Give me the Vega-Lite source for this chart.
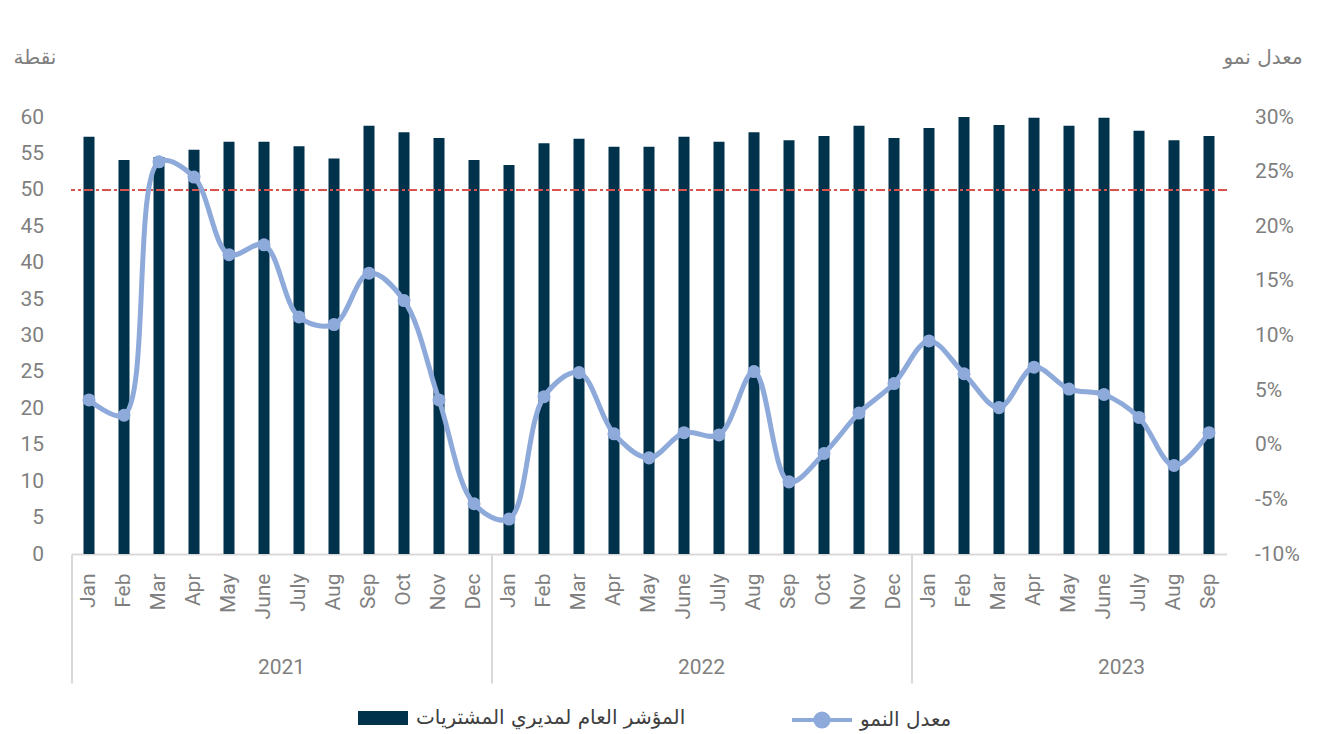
{
  "$schema": "https://vega.github.io/schema/vega-lite/v6.json",
  "autosize": {"type": "none"},
  "padding": {"left": 71.5, "top": 117, "right": 91.5, "bottom": 180},
  "width": 1155,
  "height": 437,
  "background": "white",
  "config": {
    "view": {"stroke": null},
    "font": "Roboto",
    "axis": {"labelColor": "#7f7f7f", "labelFont": "Roboto", "grid": false, "titleColor": "#7f7f7f", "titleFontWeight": "normal"},
    "legend": {"labelColor": "#404040", "labelFont": "DejaVu Sans", "labelFontSize": 20, "labelLimit": 500}
  },
  "data": {"values": [
    {"key": "2021 Jan", "pmi": 57.3, "growth": 0.041},
    {"key": "2021 Feb", "pmi": 54.1, "growth": 0.027},
    {"key": "2021 Mar", "pmi": 54.5, "growth": 0.259},
    {"key": "2021 Apr", "pmi": 55.5, "growth": 0.245},
    {"key": "2021 May", "pmi": 56.6, "growth": 0.174},
    {"key": "2021 June", "pmi": 56.6, "growth": 0.183},
    {"key": "2021 July", "pmi": 56.0, "growth": 0.117},
    {"key": "2021 Aug", "pmi": 54.3, "growth": 0.110},
    {"key": "2021 Sep", "pmi": 58.8, "growth": 0.157},
    {"key": "2021 Oct", "pmi": 57.9, "growth": 0.132},
    {"key": "2021 Nov", "pmi": 57.1, "growth": 0.041},
    {"key": "2021 Dec", "pmi": 54.1, "growth": -0.054},
    {"key": "2022 Jan", "pmi": 53.4, "growth": -0.068},
    {"key": "2022 Feb", "pmi": 56.4, "growth": 0.044},
    {"key": "2022 Mar", "pmi": 57.0, "growth": 0.066},
    {"key": "2022 Apr", "pmi": 55.9, "growth": 0.010},
    {"key": "2022 May", "pmi": 55.9, "growth": -0.012},
    {"key": "2022 June", "pmi": 57.3, "growth": 0.011},
    {"key": "2022 July", "pmi": 56.6, "growth": 0.009},
    {"key": "2022 Aug", "pmi": 57.9, "growth": 0.067},
    {"key": "2022 Sep", "pmi": 56.8, "growth": -0.034},
    {"key": "2022 Oct", "pmi": 57.4, "growth": -0.008},
    {"key": "2022 Nov", "pmi": 58.8, "growth": 0.029},
    {"key": "2022 Dec", "pmi": 57.1, "growth": 0.056},
    {"key": "2023 Jan", "pmi": 58.5, "growth": 0.095},
    {"key": "2023 Feb", "pmi": 60.0, "growth": 0.065},
    {"key": "2023 Mar", "pmi": 58.9, "growth": 0.034},
    {"key": "2023 Apr", "pmi": 59.9, "growth": 0.071},
    {"key": "2023 May", "pmi": 58.8, "growth": 0.051},
    {"key": "2023 June", "pmi": 59.9, "growth": 0.046},
    {"key": "2023 July", "pmi": 58.1, "growth": 0.025},
    {"key": "2023 Aug", "pmi": 56.8, "growth": -0.019},
    {"key": "2023 Sep", "pmi": 57.4, "growth": 0.011}
  ]},
  "layer": [
    {
      "layer": [
        {
          "mark": {"type": "bar", "size": 11},
          "encoding": {
            "x": {"field": "key", "type": "ordinal", "sort": null,
              "scale": {"paddingInner": 0, "paddingOuter": 0},
              "axis": {"orient": "bottom", "title": null, "labelAngle": -90, "labelAlign": "right", "labelBaseline": "middle", "labelPadding": 19, "labelFontSize": 21, "ticks": false, "domain": true, "domainColor": "#d9d9d9", "domainWidth": 2, "labelExpr": "split(datum.label,' ')[1]"}},
            "y": {"field": "pmi", "type": "quantitative",
              "scale": {"domain": [0, 60], "nice": false, "zero": true},
              "axis": {"orient": "left", "values": [0, 5, 10, 15, 20, 25, 30, 35, 40, 45, 50, 55, 60], "ticks": false, "domain": false, "labelPadding": 28, "labelFontSize": 21, "labelBaseline": "middle",
                "title": "نقطة", "titleAngle": 0, "titleX": -37, "titleY": -60, "titleAlign": "center", "titleBaseline": "middle", "titleFont": "DejaVu Sans", "titleFontSize": 20}},
            "color": {"datum": "المؤشر العام لمديري المشتريات", "type": "nominal",
              "scale": {"range": ["#00324b"]},
              "legend": {"title": null, "orient": "none", "legendX": 286.5, "legendY": 576, "symbolType": "M-1,-0.28H1V0.28H-1Z", "symbolSize": 2500, "symbolStrokeWidth": 0, "labelOffset": 8}}
          }
        },
        {
          "mark": {"type": "rule", "color": "#d9534f", "strokeWidth": 1.8, "strokeDash": [8, 4, 2, 4]},
          "encoding": {"y": {"datum": 50, "type": "quantitative",
              "axis": {"orient": "left", "values": [0, 5, 10, 15, 20, 25, 30, 35, 40, 45, 50, 55, 60], "ticks": false, "domain": false, "labelPadding": 28, "labelFontSize": 21, "labelBaseline": "middle",
                "title": "نقطة", "titleAngle": 0, "titleX": -37, "titleY": -60, "titleAlign": "center", "titleBaseline": "middle", "titleFont": "DejaVu Sans", "titleFontSize": 20}}}
        },
        {
          "mark": {"type": "rule", "opacity": 0},
          "encoding": {
            "x": {"field": "key", "type": "ordinal", "sort": null,
              "axis": {"orient": "bottom", "title": null, "values": ["2021 Jan", "2022 Jan", "2023 Jan"], "bandPosition": 0, "labels": false, "domain": false, "ticks": true, "tickSize": 129, "tickColor": "#d9d9d9", "tickWidth": 2}}
          }
        }
      ],
      "resolve": {"axis": {"x": "independent"}}
    },
    {
      "mark": {"type": "line", "interpolate": "catmull-rom", "strokeWidth": 5, "point": {"filled": true, "size": 170}},
      "encoding": {
        "x": {"field": "key", "type": "ordinal", "sort": null,
          "axis": {"orient": "bottom", "title": null, "values": ["2021 June", "2022 June", "2023 June"], "labelExpr": "split(datum.label,' ')[0]", "labelAngle": 0, "labelAlign": "center", "labelBaseline": "middle", "labelOffset": 17.5, "labelPadding": 113, "labelFontSize": 21, "ticks": false, "domain": false}},
        "y": {"field": "growth", "type": "quantitative",
          "scale": {"domain": [-0.1, 0.3], "nice": false, "zero": false},
          "axis": {"orient": "right", "values": [-0.1, -0.05, 0, 0.05, 0.1, 0.15, 0.2, 0.25, 0.3], "labelExpr": "replace(format(datum.value,'.0%'),'−','-')", "ticks": false, "domain": false, "labelPadding": 28, "labelFontSize": 21, "labelBaseline": "middle",
            "title": "معدل نمو", "titleAngle": 0, "titleX": 36, "titleY": -60, "titleAlign": "center", "titleBaseline": "middle", "titleFont": "DejaVu Sans", "titleFontSize": 20}},
        "color": {"datum": "معدل النمو", "type": "nominal",
          "scale": {"range": ["#8eaadb"]},
          "legend": {"title": null, "orient": "none", "legendX": 718.5, "legendY": 571, "symbolType": "M-1,0H1M-0.22,0A0.22,0.22 0 1,1 0.22,0A0.22,0.22 0 1,1 -0.22,0", "symbolSize": 3600, "symbolStrokeWidth": 4, "symbolFillColor": "#8eaadb", "symbolStrokeColor": "#8eaadb", "labelOffset": 6}}
      }
    }
  ],
  "resolve": {"scale": {"y": "independent", "color": "independent"}, "axis": {"x": "independent"}, "legend": {"color": "independent"}}
}
